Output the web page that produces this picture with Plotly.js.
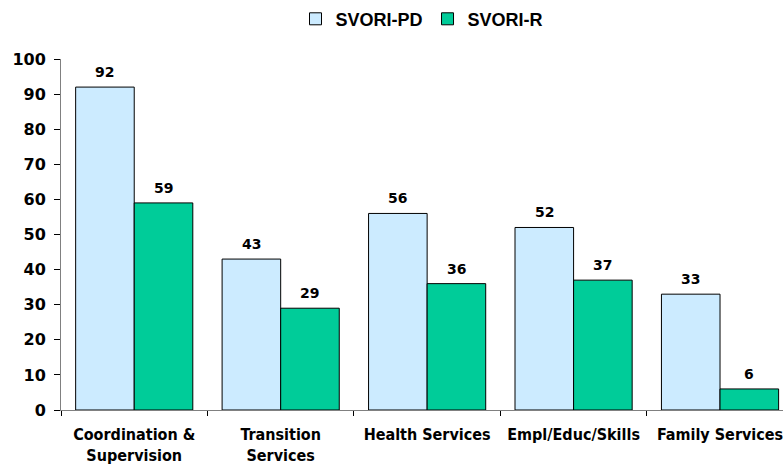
<!DOCTYPE html>
<html>
<head>
<meta charset="utf-8">
<script src="https://cdn.plot.ly/plotly-3.0.1.min.js"></script>
<style>html,body{margin:0;padding:0;background:#fff;}</style>
</head>
<body>
<div id="chart" style="width:783px;height:466px;"></div>
<script>
const categories = ["Coordination &<br>Supervision", "Transition<br>Services", "Health Services", "Empl/Educ/Skills", "Family Services"];
const seriesNames = ["SVORI-PD", "SVORI-R"];
const svoriPD = [92, 43, 56, 52, 33];
const svoriR = [59, 29, 36, 37, 6];
const yTicks = [0, 10, 20, 30, 40, 50, 60, 70, 80, 90, 100];

const font = "DejaVu Sans, Verdana, sans-serif";
const condFont = "DejaVu Sans Condensed, DejaVu Sans, sans-serif";
const traces = [
  {type: "bar", name: seriesNames[0], x: categories, y: svoriPD,
   marker: {color: "#CCEBFF", line: {color: "#000", width: 1}}},
  {type: "bar", name: seriesNames[1], x: categories, y: svoriR,
   marker: {color: "#00CC99", line: {color: "#000", width: 1}}}
];
const bargap = 0.2;
const half = (1 - bargap) / 4;
function labels(vals, off) {
  return vals.map((v, i) => ({
    x: i + off, y: v, xref: "x", yref: "y", text: String(v), showarrow: false,
    xanchor: "center", yanchor: "bottom", yshift: 5,
    font: {family: font, size: 14, color: "#000", weight: "bold"}
  }));
}
const layout = {
  width: 783, height: 466,
  margin: {l: 61, r: 0, t: 59, b: 56},
  paper_bgcolor: "#fff", plot_bgcolor: "#fff",
  barmode: "group", bargap: bargap, bargroupgap: 0,
  showlegend: true,
  legend: {orientation: "h", x: 0.5, xanchor: "center", y: 0.959, yanchor: "middle",
           yref: "container", font: {family: "Liberation Sans, Arial, sans-serif", size: 18, color: "#000", weight: "bold"},
           itemwidth: 30, traceorder: "normal"},
  annotations: labels(svoriPD, -half).concat(labels(svoriR, half)),
  xaxis: {type: "category", range: [-0.5, 4.43], showgrid: false, zeroline: false,
          showline: true, linecolor: "#808080", linewidth: 1,
          ticks: "outside", tickson: "boundaries", ticklen: 5, tickcolor: "#000",
          ticklabelstandoff: 10,
          tickfont: {family: condFont, size: 16, color: "#000", weight: "bold"}},
  yaxis: {range: [0, 100], tickvals: yTicks, showgrid: false, zeroline: false,
          showline: true, linecolor: "#808080", linewidth: 1,
          ticks: "outside", ticklen: 6, tickcolor: "#000",
          ticklabelstandoff: 5,
          tickfont: {family: font, size: 16, color: "#000", weight: "bold"}}
};
Plotly.newPlot("chart", traces, layout, {displayModeBar: false, staticPlot: true});
</script>
</body>
</html>
